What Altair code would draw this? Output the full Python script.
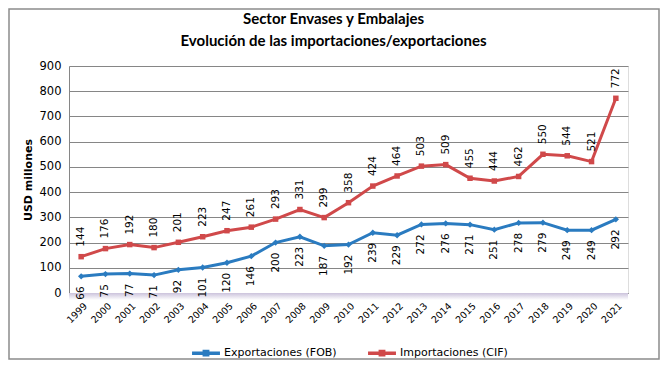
import altair as alt
import pandas as pd

years = [str(y) for y in range(1999, 2022)]
exportaciones = [66, 75, 77, 71, 92, 101, 120, 146, 200, 223, 187, 192, 239, 229,
                 272, 276, 271, 251, 278, 279, 249, 249, 292]
importaciones = [144, 176, 192, 180, 201, 223, 247, 261, 293, 331, 299, 358, 424, 464,
                 503, 509, 455, 444, 462, 550, 544, 521, 772]
series_names = ["Exportaciones (FOB)", "Importaciones (CIF)"]
colors = ["#2A7BC0", "#D0494A"]
title_lines = ["Sector Envases y Embalajes", "Evolución de las importaciones/exportaciones"]

rows = []
for i, y in enumerate(years):
    rows.append({"year": y, "serie": series_names[0], "value": exportaciones[i]})
    rows.append({"year": y, "serie": series_names[1], "value": importaciones[i]})
df = pd.DataFrame(rows)

W, H = 559, 227
FONT = "DejaVu Sans"

x = alt.X("year:O", scale=alt.Scale(type="point", padding=0.5),
          axis=alt.Axis(title=None, labelAngle=-45, labelAlign="right", labelBaseline="middle",
                        labelFontSize=9.5, labelFont=FONT, labelColor="#000000",
                        ticks=False, domainColor="#868686", labelPadding=11, labelOffset=4,
                        grid=False))
y = alt.Y("value:Q", scale=alt.Scale(domain=[0, 900], nice=False),
          axis=alt.Axis(title="USD millones", values=list(range(0, 901, 100)),
                        titleFont=FONT, titleFontSize=11, titleFontWeight="bold",
                        titleColor="#000000", titlePadding=6,
                        labelFont=FONT, labelFontSize=11.5, labelColor="#000000",
                        ticks=False, labelPadding=8, gridColor="#868686",
                        domainColor="#868686"))

color = alt.Color("serie:N", scale=alt.Scale(domain=series_names, range=colors),
                  legend=alt.Legend(title=None, orient="none", direction="horizontal",
                                    legendX=121, legendY=271,
                                    symbolType="M-1,0H1M-0.12,-0.12H0.12V0.12H-0.12Z",
                                    symbolSize=780, symbolStrokeWidth=3.5,
                                    labelFont=FONT, labelFontSize=11, labelColor="#000000",
                                    columnPadding=24, labelOffset=2))

base = alt.Chart(df)

lines = base.mark_line(strokeWidth=3).encode(x=x, y=y, color=color)

points_exp = base.transform_filter(alt.datum.serie == series_names[0]).mark_point(
    filled=True, size=40, opacity=1, shape="diamond", color=colors[0]).encode(x=x, y=y)
points_imp = base.transform_filter(alt.datum.serie == series_names[1]).mark_point(
    filled=True, size=30, opacity=1, shape="square", color=colors[1]).encode(x=x, y=y)

labels_imp = base.transform_filter(alt.datum.serie == series_names[1]).mark_text(
    angle=270, align="left", baseline="middle", yOffset=-10, fontSize=10.5, font=FONT,
    color="#000000").encode(x=x, y=y, text="value:Q")

labels_exp = base.transform_filter(alt.datum.serie == series_names[0]).mark_text(
    angle=270, align="right", baseline="middle", yOffset=10, fontSize=10.5, font=FONT,
    color="#000000").encode(x=x, y=y, text="value:Q")

one = alt.Data(values=[{}])
title1 = alt.Chart(one).mark_text(
    text=title_lines[0], font="Lato", fontSize=15, fontWeight="bold", color="#000000",
    align="center", baseline="middle").encode(x=alt.value(W / 2 - 15), y=alt.value(-47))
title2 = alt.Chart(one).mark_text(
    text=title_lines[1], font="Lato", fontSize=15, fontWeight="bold", color="#000000",
    align="center", baseline="middle").encode(x=alt.value(W / 2 - 15), y=alt.value(-25))

border = alt.Chart(one).mark_rect(
    fill=None, stroke="#8c8c8c", strokeWidth=1.5, clip=False).encode(
    x=alt.value(-60), x2=alt.value(W + 31), y=alt.value(-57), y2=alt.value(H + 66))

shadow = alt.Chart(one).mark_rect(
    clip=False,
    color=alt.Gradient(gradient="linear", x1=0, x2=0, y1=0, y2=1,
                       stops=[alt.GradientStop(offset=0, color="#cbc3dc"),
                              alt.GradientStop(offset=1, color="#ffffff")])).encode(
    x=alt.value(0), x2=alt.value(W), y=alt.value(H), y2=alt.value(H + 7))

chart = alt.layer(border, shadow, title1, title2, lines, points_exp, points_imp,
                  labels_imp, labels_exp).properties(
    width=W, height=H,
    autosize=alt.AutoSizeParams(type="none"),
    padding={"left": 61, "top": 58, "right": 32, "bottom": 67},
).configure_view(stroke=None).configure(background="#ffffff")

chart.save("out.html", embed_options={"renderer": "svg", "actions": False})
